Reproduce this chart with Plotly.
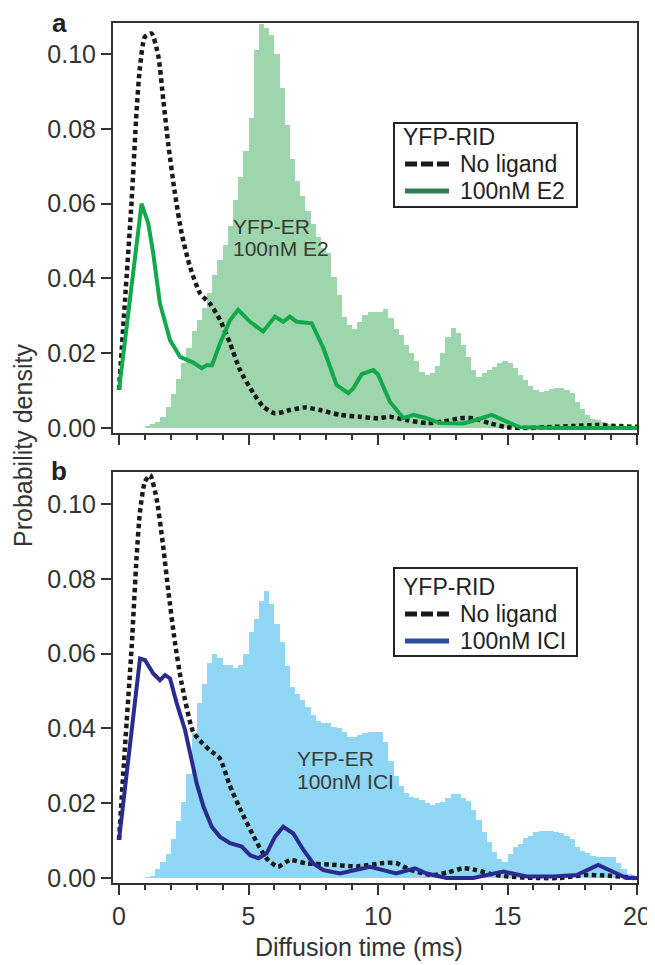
import numpy as np
import plotly.graph_objects as go

# ---------------- data ----------------
bin_width = 0.2
bin_starts = [round(i * bin_width, 1) for i in range(100)]

hist_e2 = [0, 0, 0, 0, 0,
           0.0005, 0.001, 0.0015, 0.003, 0.0055, 0.009, 0.013, 0.0175, 0.0215, 0.026,
           0.029, 0.032, 0.036, 0.041, 0.045, 0.049, 0.054, 0.061, 0.067, 0.074,
           0.083, 0.101, 0.108, 0.107, 0.105, 0.100, 0.091, 0.081, 0.072, 0.066,
           0.062, 0.058, 0.0545, 0.051, 0.048, 0.0467, 0.0404, 0.0355, 0.0297, 0.0275,
           0.0265, 0.0284, 0.0302, 0.0311, 0.0311, 0.0311, 0.0317, 0.0293, 0.0266, 0.0248,
           0.0222, 0.0200, 0.0178, 0.0151, 0.0143, 0.0147, 0.0165, 0.0200, 0.0244, 0.0267,
           0.0253, 0.0222, 0.0190, 0.0155, 0.0137, 0.0146, 0.0155, 0.0164, 0.0173, 0.0180,
           0.0173, 0.0160, 0.0142, 0.0128, 0.0111, 0.0102, 0.0097, 0.0100, 0.0104, 0.0106,
           0.0106, 0.0102, 0.0093, 0.0070, 0.0052, 0.0034, 0.0025, 0.0021, 0.0016, 0.0011,
           0.0008, 0.0006, 0.0004, 0.0003, 0.0002]

hist_ici = [0, 0, 0, 0, 0,
            0.0002, 0.0006, 0.0024, 0.0042, 0.0064, 0.0104, 0.0153, 0.0202, 0.0278, 0.0387,
            0.0469, 0.0518, 0.0576, 0.0598, 0.0588, 0.0570, 0.0570, 0.0562, 0.0570, 0.0600,
            0.0659, 0.0692, 0.0740, 0.0768, 0.0732, 0.0680, 0.0630, 0.0568, 0.0511, 0.0493,
            0.0476, 0.0458, 0.0436, 0.0419, 0.0414, 0.0414, 0.0405, 0.0401, 0.0391, 0.0378,
            0.0378, 0.0382, 0.0387, 0.0391, 0.0391, 0.0391, 0.0365, 0.0312, 0.0272, 0.0245,
            0.0227, 0.0217, 0.0213, 0.0209, 0.0200, 0.0195, 0.0200, 0.0204, 0.0213, 0.0224,
            0.0224, 0.0213, 0.0205, 0.0182, 0.0155, 0.0124, 0.0095, 0.0070, 0.0052, 0.0042,
            0.0064, 0.0084, 0.0092, 0.0108, 0.0112, 0.0123, 0.0125, 0.0126, 0.0126, 0.0124,
            0.0120, 0.0113, 0.0103, 0.0082, 0.0072, 0.0066, 0.0060, 0.0057, 0.0057, 0.0055,
            0.0055, 0.0040, 0.0025, 0.0010, 0.0002]

noligand_a_t = [0, 0.23, 0.49, 0.68, 0.81, 1.0, 1.26, 1.52, 1.71, 1.9, 2.16, 2.42, 2.74, 3.13,
                3.51, 3.9, 4.29, 4.67, 5.19, 5.57, 6.02, 6.6, 7.18, 7.76, 8.53, 9.3, 10.0,
                10.46, 11.1, 11.88, 12.5, 13.17, 13.68, 14.3, 14.97, 15.74, 16.5, 17.5,
                18.44, 19.34, 20]
noligand_a_p = [0.0102, 0.034, 0.061, 0.085, 0.0966, 0.1046, 0.1055, 0.0993, 0.0877, 0.076,
                0.0627, 0.052, 0.0431, 0.036, 0.0333, 0.0289, 0.0226, 0.0155, 0.0093, 0.0057,
                0.0039, 0.0048, 0.0055, 0.0048, 0.0035, 0.003, 0.0026, 0.003, 0.0021, 0.0013,
                0.0017, 0.0026, 0.0026, 0.0013, 0.0002, 0.0, 0.0002, 0.0005, 0.0008, 0.0005,
                0.0003]

e2_t = [0, 0.87, 1.13, 1.32, 1.58, 1.97, 2.36, 2.87, 3.19, 3.39, 3.59, 3.9, 4.29, 4.6, 5.06,
        5.57, 6.02, 6.34, 6.6, 6.86, 7.44, 7.89, 8.4, 8.85, 9.05, 9.37, 9.82, 10.0, 10.46,
        10.98, 11.37, 11.88, 12.4, 13.3, 13.81, 14.39, 14.97, 15.48, 16.77, 20]
e2_p = [0.0102, 0.060, 0.0547, 0.0467, 0.0333, 0.0235, 0.019, 0.0175, 0.016, 0.0168, 0.0168,
        0.0226, 0.0289, 0.0316, 0.0284, 0.0258, 0.0298, 0.0284, 0.0298, 0.0284, 0.028,
        0.0214, 0.0115, 0.0093, 0.0106, 0.0144, 0.0155, 0.0143, 0.0070, 0.0026, 0.0035,
        0.0026, 0.0013, 0.0012, 0.0022, 0.0035, 0.0017, 0.0002, 0.0, 0.0]

noligand_b_t = [0, 0.23, 0.49, 0.68, 0.81, 1.0, 1.2, 1.45, 1.7, 1.9, 2.16, 2.42, 2.86, 3.2,
                3.5, 3.89, 4.27, 4.66, 5.17, 5.69, 6.14, 6.6, 7.25, 8.15, 9.18, 10.2, 10.7,
                11.24, 12.1, 12.7, 13.3, 13.8, 14.4, 15.0, 16.1, 17.0, 18.0, 18.96, 19.9]
noligand_b_p = [0.0102, 0.035, 0.062, 0.086, 0.098, 0.106, 0.1078, 0.1015, 0.089, 0.077,
                0.063, 0.052, 0.0391, 0.0362, 0.0342, 0.032, 0.0249, 0.0187, 0.0115, 0.0053,
                0.003, 0.0048, 0.0039, 0.0036, 0.0031, 0.004, 0.004, 0.0022, 0.0008, 0.0015,
                0.0026, 0.0021, 0.001, 0.0004, 0.0, 0.0, 0.0008, 0.0006, 0.0]

ici_t = [0, 0.81, 1.0, 1.32, 1.58, 1.78, 1.97, 2.23, 2.55, 2.81, 3.0, 3.26, 3.58, 3.9, 4.29,
         4.74, 5.06, 5.38, 5.7, 6.02, 6.34, 6.73, 7.12, 7.5, 7.89, 8.53, 9.69, 10.2, 10.7,
         11.43, 11.88, 12.65, 13.68, 14.84, 15.74, 16.77, 17.67, 18.5, 18.96, 19.6, 20]
ici_p = [0.0102, 0.0587, 0.0583, 0.0547, 0.0529, 0.0543, 0.0534, 0.0467, 0.0396, 0.0316,
         0.0253, 0.0191, 0.0137, 0.011, 0.0093, 0.0084, 0.0061, 0.0053, 0.0066, 0.011,
         0.0137, 0.0119, 0.0075, 0.0039, 0.0021, 0.0012, 0.003, 0.0021, 0.0012, 0.0026,
         0.0012, 0.0, 0.0, 0.0017, 0.0004, 0.0004, 0.0008, 0.0035, 0.0021, 0.0, 0.0]

y_ticks = [0.00, 0.02, 0.04, 0.06, 0.08, 0.10]
x_ticks = [0, 5, 10, 15, 20]

legend_title = "YFP-RID"
legend_a_labels = ["No ligand", "100nM E2"]
legend_b_labels = ["No ligand", "100nM ICI"]
hist_a_label = ["YFP-ER", "100nM E2"]
hist_b_label = ["YFP-ER", "100nM ICI"]

# ---------------- styling ----------------
FONT = "Liberation Sans, Arial, sans-serif"
AX = "#333333"
TXT = "#222222"
GREEN_FILL = "#9dd5ac"
BLUE_FILL = "#8fd7f5"
GREEN_LINE = "#12a84b"
GREEN_LEG = "#2f7f52"
BLUE_LINE = "#2a2a90"
BLUE_LEG = "#2d4ea0"
BLACK = "#1a1a1a"
DOT = dict(color=BLACK, width=4.5, dash="4.5px,3.5px", shape="spline", smoothing=0.6)

centers = [s + bin_width / 2 for s in bin_starts]

fig = go.Figure()

# panel a
fig.add_trace(go.Bar(x=centers, y=hist_e2, width=bin_width, marker=dict(color=GREEN_FILL, line=dict(width=0)),
                     name="YFP-ER 100nM E2", showlegend=False, xaxis="x", yaxis="y"))
fig.add_trace(go.Scatter(x=noligand_a_t, y=noligand_a_p, mode="lines", name="No ligand", line=DOT,
                         showlegend=False, xaxis="x", yaxis="y"))
fig.add_trace(go.Scatter(x=e2_t, y=e2_p, mode="lines", name="100nM E2", line=dict(color=GREEN_LINE, width=4),
                         showlegend=False, xaxis="x", yaxis="y"))

# panel b
fig.add_trace(go.Bar(x=centers, y=hist_ici, width=bin_width, marker=dict(color=BLUE_FILL, line=dict(width=0)),
                     name="YFP-ER 100nM ICI", showlegend=False, xaxis="x2", yaxis="y2"))
fig.add_trace(go.Scatter(x=noligand_b_t, y=noligand_b_p, mode="lines", name="No ligand", line=DOT,
                         showlegend=False, xaxis="x2", yaxis="y2"))
fig.add_trace(go.Scatter(x=ici_t, y=ici_p, mode="lines", name="100nM ICI", line=dict(color=BLUE_LINE, width=4),
                         showlegend=False, xaxis="x2", yaxis="y2"))

xrange = [-0.232, 20]
yrange_a = [-0.00134, 0.1083]
yrange_b = [-0.00134, 0.1086]

def xaxis_cfg(anchor, labels):
    return dict(domain=[0, 1], anchor=anchor, range=xrange, tickvals=x_ticks,
                showticklabels=labels, ticks="outside", ticklen=10, tickwidth=2, tickcolor=AX,
                minor=dict(dtick=1, tick0=0, ticks="outside", ticklen=5, tickwidth=2, tickcolor=AX),
                showline=True, linecolor=AX, linewidth=2, mirror=True, showgrid=False, zeroline=False,
                tickfont=dict(size=25, color=AX, family=FONT))

def yaxis_cfg(anchor, domain, rng):
    return dict(domain=domain, anchor=anchor, range=rng, tickvals=y_ticks, tickformat=".2f",
                ticks="outside", ticklen=10, tickwidth=2, tickcolor=AX,
                showline=True, linecolor=AX, linewidth=2, mirror=True, showgrid=False, zeroline=False,
                tickfont=dict(size=25, color=AX, family=FONT))

# helpers: reference-pixel -> paper coords (plot area 524 x 860)
def px(X):
    return (X - 113) / 524.0

def py(Y):
    return (883 - Y) / 860.0

shapes = []
annotations = []

def add_legend(box_top, box_bot, rows, labels, color2):
    shapes.append(dict(type="rect", xref="paper", yref="paper", x0=px(394), x1=px(577),
                       y0=py(box_bot), y1=py(box_top), line=dict(color=TXT, width=2), fillcolor="white",
                       layer="above"))
    annotations.append(dict(text=legend_title, x=px(401), y=py(rows[0]), xref="paper", yref="paper",
                            xanchor="left", yanchor="middle", showarrow=False,
                            font=dict(size=23, color=TXT, family=FONT)))
    shapes.append(dict(type="line", xref="paper", yref="paper", x0=px(405), x1=px(449),
                       y0=py(rows[1]), y1=py(rows[1]), line=dict(color=BLACK, width=5, dash="12px,4px"),
                       layer="above"))
    shapes.append(dict(type="line", xref="paper", yref="paper", x0=px(405), x1=px(449),
                       y0=py(rows[2]), y1=py(rows[2]), line=dict(color=color2, width=5), layer="above"))
    for r, lab in zip(rows[1:], labels):
        annotations.append(dict(text=lab, x=px(458), y=py(r), xref="paper", yref="paper",
                                xanchor="left", yanchor="middle", showarrow=False,
                                font=dict(size=23, color=TXT, family=FONT)))

add_legend(123, 207, [137, 164, 191], legend_a_labels, GREEN_LEG)
add_legend(568, 656, [587, 614, 641], legend_b_labels, BLUE_LEG)

# histogram labels (two lines each)
for lab, yv in zip(hist_a_label, [0.0540, 0.0479]):
    annotations.append(dict(text=lab, x=4.32, y=yv, xref="x", yref="y", xanchor="left", yanchor="middle",
                            showarrow=False, font=dict(size=21, color="#3a3a3a", family=FONT)))
for lab, yv in zip(hist_b_label, [0.0320, 0.0257]):
    annotations.append(dict(text=lab, x=6.8, y=yv, xref="x2", yref="y2", xanchor="left", yanchor="middle",
                            showarrow=False, font=dict(size=21, color="#3a3a3a", family=FONT)))

annotations += [
    dict(text="Probability density", x=px(23), y=py(446), xref="paper", yref="paper", textangle=-90,
         xanchor="center", yanchor="middle", showarrow=False, font=dict(size=25, color=AX, family=FONT)),
    dict(text="Diffusion time (ms)", x=px(359), y=py(947), xref="paper", yref="paper",
         xanchor="center", yanchor="middle", showarrow=False, font=dict(size=25, color=AX, family=FONT)),
    dict(text="<b>a</b>", x=px(59), y=py(23), xref="paper", yref="paper",
         xanchor="center", yanchor="middle", showarrow=False, font=dict(size=26, color=TXT, family=FONT)),
    dict(text="<b>b</b>", x=px(59), y=py(471), xref="paper", yref="paper",
         xanchor="center", yanchor="middle", showarrow=False, font=dict(size=26, color=TXT, family=FONT)),
]

# the page body adds an 8px offset, so the figure margins are shifted by -8px
fig.update_layout(
    width=655, height=965,
    margin=dict(l=105, r=26, t=15, b=90),
    paper_bgcolor="white", plot_bgcolor="white",
    font=dict(family=FONT, color=AX),
    barmode="overlay", bargap=0,
    showlegend=False,
    xaxis=xaxis_cfg("y", False),
    yaxis=yaxis_cfg("x", [py(433), 1.0], yrange_a),
    xaxis2=xaxis_cfg("y2", True),
    yaxis2=yaxis_cfg("x2", [0.0, py(472)], yrange_b),
    shapes=shapes,
    annotations=annotations,
)

fig.write_html("out.html")
